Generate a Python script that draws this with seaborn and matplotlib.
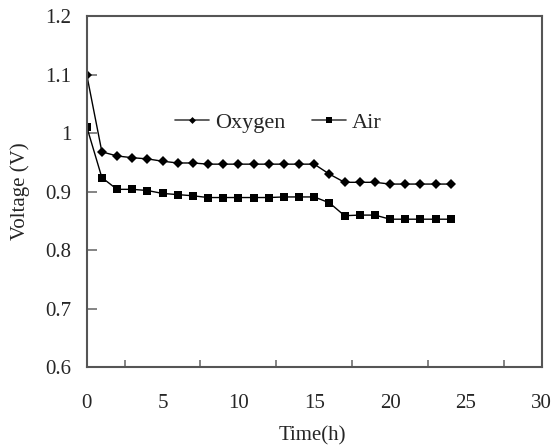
import matplotlib
matplotlib.use("Agg")
import matplotlib.pyplot as plt
import seaborn as sns
import pandas as pd
from matplotlib.lines import Line2D

time_h = [0, 1, 2, 3, 4, 5, 6, 7, 8, 9, 10, 11, 12, 13, 14, 15, 16, 17, 18, 19, 20, 21, 22, 23, 24]
oxygen_v = [1.100, 0.968, 0.961, 0.958, 0.956, 0.952, 0.949, 0.949, 0.947, 0.947, 0.947, 0.947, 0.947,
            0.947, 0.947, 0.947, 0.930, 0.916, 0.916, 0.916, 0.913, 0.913, 0.913, 0.913, 0.913]
air_v = [1.011, 0.924, 0.904, 0.904, 0.902, 0.897, 0.895, 0.893, 0.890, 0.890, 0.890, 0.890, 0.890,
         0.891, 0.891, 0.891, 0.881, 0.859, 0.860, 0.860, 0.853, 0.853, 0.853, 0.853, 0.853]
series_names = ["Oxygen", "Air"]
x_ticks = [0, 5, 10, 15, 20, 25, 30]
x_minor_ticks = [2.5, 7.5, 12.5, 17.5, 22.5, 27.5]
y_ticks = [0.6, 0.7, 0.8, 0.9, 1.0, 1.1, 1.2]
y_tick_labels = ["0.6", "0.7", "0.8", "0.9", "1", "1.1", "1.2"]

sns.set_style("white")
plt.rcParams["font.family"] = ["Liberation Serif", "DejaVu Serif"]

df = pd.DataFrame({"Time": time_h * 2,
                   "Voltage": oxygen_v + air_v,
                   "Series": [series_names[0]] * len(time_h) + [series_names[1]] * len(time_h)})

fig = plt.figure(figsize=(5.53, 4.48), dpi=100)
ax = fig.add_axes([0.1568, 0.180, 0.8228, 0.7843])

sns.lineplot(data=df[df.Series == "Oxygen"], x="Time", y="Voltage", ax=ax, color="black",
             marker="D", markersize=5, markeredgewidth=0, linewidth=1.0, legend=False)
sns.lineplot(data=df[df.Series == "Air"], x="Time", y="Voltage", ax=ax, color="black",
             marker="s", markersize=5.5, markeredgewidth=0, linewidth=1.0, legend=False)

ax.set_xlim(0, 30)
ax.set_ylim(0.6, 1.2)
ax.set_xticks(x_ticks)
ax.set_xticklabels([str(t) for t in x_ticks])
ax.set_xticks(x_minor_ticks, minor=True)
ax.set_yticks(y_ticks)
ax.set_yticklabels(y_tick_labels)

ax.tick_params(axis="x", which="major", length=0, pad=19, labelsize=15)
ax.tick_params(axis="x", which="minor", direction="in", length=5, width=1.2, color="#707070", bottom=True)
ax.tick_params(axis="y", which="major", direction="in", length=7, width=1.2, color="#707070",
               pad=11, labelsize=15, left=True)

for sp in ax.spines.values():
    sp.set_visible(True)
    sp.set_color("#555555")
    sp.set_linewidth(1.5)

ax.set_xlabel("Time(h)", fontsize=15, va="top")
ax.set_ylabel("Voltage (V)", fontsize=15)
ax.xaxis.set_label_coords(0.497, -0.168)
ax.yaxis.set_label_coords(-0.125, 0.5)

handles = [Line2D([], [], color="#444444", lw=1.2, marker="D", markersize=3.5, markerfacecolor="black",
                  markeredgewidth=0),
           Line2D([], [], color="#444444", lw=1.2, marker="s", markersize=3.8, markerfacecolor="black",
                  markeredgewidth=0)]
ax.legend(handles, series_names, loc="center left", bbox_to_anchor=(0.194, 0.697), ncol=2,
          frameon=False, fontsize=16, handlelength=1.55, handletextpad=0.25, columnspacing=1.2,
          borderaxespad=0, borderpad=0)

fig.savefig("out.png", dpi=100)
